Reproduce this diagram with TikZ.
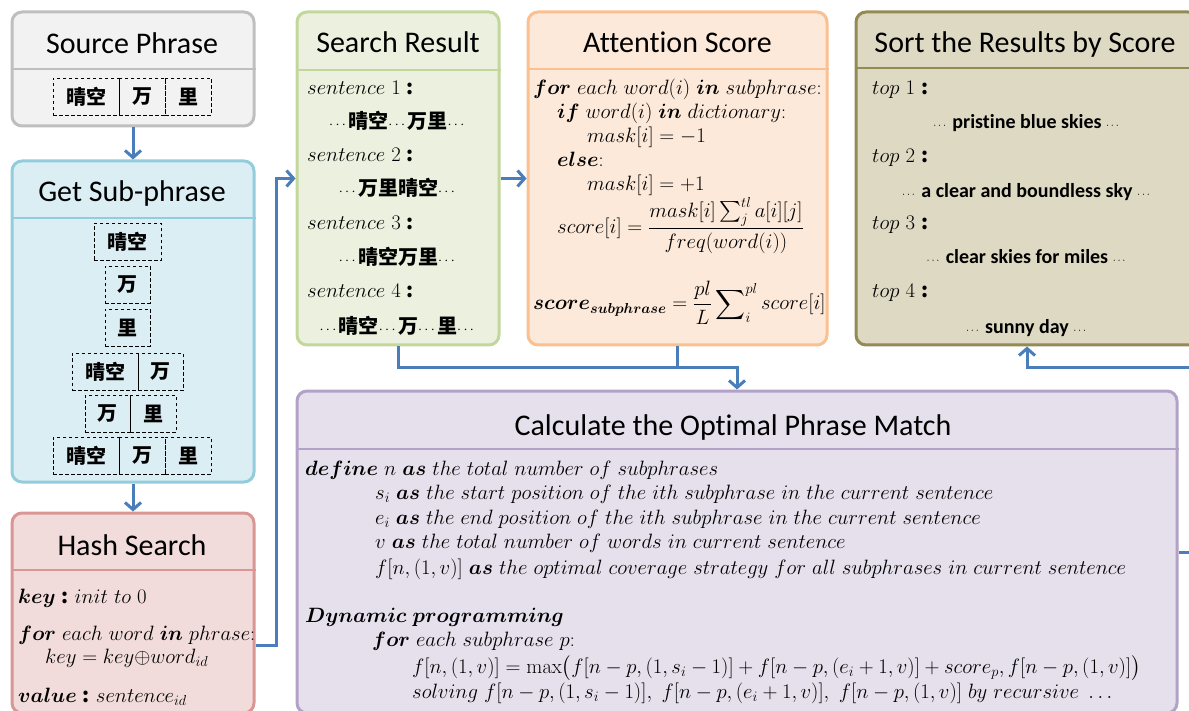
\documentclass[tikz,border=0pt]{standalone}
\usepackage[no-math]{fontspec}
\usepackage{amsmath}
\usepackage{bm}
\usetikzlibrary{arrows.meta,calc}
\newfontfamily\calib[Ligatures=NoCommon]{Carlito}
\newfontfamily\cjk{Noto Sans CJK SC}
\newcommand{\zh}[1]{{\cjk\bfseries #1}}
\newcommand{\dd}{{\fontsize{14}{14}\selectfont$\cdots$}}
\newcommand{\sd}{{\fontsize{11}{11}\selectfont$\cdots$}}
\newcommand{\cln}{\ \zh{:}}
\definecolor{arrowblue}{HTML}{4A7EBB}
\definecolor{srcfill}{HTML}{F2F2F2}\definecolor{srcdraw}{HTML}{BFBFBF}
\definecolor{subfill}{HTML}{DBEEF4}\definecolor{subdraw}{HTML}{93CDDD}
\definecolor{hashfill}{HTML}{F2DCDB}\definecolor{hashdraw}{HTML}{D99694}
\definecolor{resfill}{HTML}{EBF1DE}\definecolor{resdraw}{HTML}{C3D69B}
\definecolor{attfill}{HTML}{FDE9D9}\definecolor{attdraw}{HTML}{FAC090}
\definecolor{sortfill}{HTML}{DDD9C3}\definecolor{sortdraw}{HTML}{948A54}
\definecolor{calcfill}{HTML}{E5E0EC}\definecolor{calcdraw}{HTML}{B3A2C7}
\tikzset{
  panel/.style={rectangle, rounded corners=10pt, line width=3pt, inner sep=0pt},
  divider/.style={line width=2pt},
  title/.style={anchor=base, inner sep=0pt, font=\calib\fontsize{30}{36}\selectfont},
  cell/.style={draw, dash pattern=on 3.5pt off 2.5pt, line width=0.9pt, inner sep=0pt, minimum height=37pt,
    font=\cjk\bfseries\fontsize{20}{24}\selectfont},
  mtext/.style={anchor=base west, inner sep=0pt, font=\fontsize{20}{23}\selectfont},
  ztext/.style={anchor=center, inner sep=0pt, font=\fontsize{20}{24}\selectfont},
  stext/.style={anchor=base, inner sep=0pt, font=\calib\bfseries\fontsize{20}{24}\selectfont},
  conn/.style={draw=arrowblue, line width=3pt, -{Straight Barb[length=7pt,width=16pt]}},
  link/.style={draw=arrowblue, line width=3pt},
}
\begin{document}
\begin{tikzpicture}[x=1pt,y=-1pt]
\useasboundingbox (0,0) rectangle (1189,711);
\clip (0,0) rectangle (1189,711);

% panels
\node[panel, fill=srcfill, draw=srcdraw, minimum width=242pt, minimum height=114pt] (src) at (133,69) {};
\node[panel, fill=subfill, draw=subdraw, minimum width=242pt, minimum height=321pt] (sub) at (133,321.5) {};
\node[panel, fill=hashfill, draw=hashdraw, minimum width=242pt, minimum height=200pt] (hash) at (133,613) {};
\node[panel, fill=resfill, draw=resdraw, minimum width=202pt, minimum height=333pt] (search) at (398,178.5) {};
\node[panel, fill=attfill, draw=attdraw, minimum width=299pt, minimum height=333pt] (attn) at (677.5,178.5) {};
\node[panel, fill=sortfill, draw=sortdraw, minimum width=342pt, minimum height=333pt] (sort) at (1027,178.5) {};
\node[panel, fill=calcfill, draw=calcdraw, minimum width=880pt, minimum height=322pt] (calc) at (737,552) {};

% header dividers
\draw[divider, srcdraw] (src.west |- 0,69) -- (src.east |- 0,69);
\draw[divider, subdraw] (sub.west |- 0,218) -- (sub.east |- 0,218);
\draw[divider, hashdraw] (hash.west |- 0,570) -- (hash.east |- 0,570);
\draw[divider, resdraw] (search.west |- 0,70) -- (search.east |- 0,70);
\draw[divider, attdraw] (attn.west |- 0,69) -- (attn.east |- 0,69);
\draw[divider, sortdraw] (sort.west |- 0,68) -- (sort.east |- 0,68);
\draw[divider, calcdraw] (calc.west |- 0,449) -- (calc.east |- 0,449);

% titles
\node[title] (srcT) at (132,54) {Source Phrase};
\node[title] (subT) at (132,202) {Get Sub-phrase};
\node[title] (hashT) at (132,555) {Hash Search};
\node[title] (searchT) at (398,53) {Search Result};
\node[title] (attnT) at (677.5,53) {Attention Score};
\node[title] (sortT) at (1025,53) {Sort the Results by Score};
\node[title] (calcT) at (733,435) {Calculate the Optimal Phrase Match};

% source phrase segmentation
\node[cell, minimum width=66pt] (pa) at (86,96.5) {晴空};
\node[cell, minimum width=46pt] (pb) at (142,96.5) {万};
\node[cell, minimum width=46pt] (pc) at (188,96.5) {里};
\draw[line width=0.9pt] (pa.north east) -- (pa.south east);

% sub-phrases
\node[cell, minimum width=67pt] (q1) at (127.5,242) {晴空};
\node[cell, minimum width=45pt] (q2) at (127.5,284.5) {万};
\node[cell, minimum width=45pt] (q3) at (127.5,327.5) {里};
\node[cell, minimum width=66pt] (q4a) at (105,372) {晴空};
\node[cell, minimum width=45pt] (q4b) at (160.5,372) {万};
\draw[line width=0.9pt] (q4a.north east) -- (q4a.south east);
\node[cell, minimum width=45pt] (q5a) at (107.5,413.5) {万};
\node[cell, minimum width=46pt] (q5b) at (153,413.5) {里};
\node[cell, minimum width=66pt] (q6a) at (86,455.5) {晴空};
\node[cell, minimum width=46pt] (q6b) at (142,455.5) {万};
\node[cell, minimum width=46pt] (q6c) at (188,455.5) {里};
\draw[line width=0.9pt] (q6a.north east) -- (q6a.south east);

% hash search
\node[mtext] (h1) at (18,603) {$\bm{key}$\cln\ $init\ to\ 0$};
\node[mtext] (h2) at (18,640) {$\bm{for}\ each\ word\ \bm{in}\ phrase$:};
\node[mtext] (h3) at (45,663) {$key=key{\oplus}word_{id}$};
\node[mtext] (h4) at (18,702) {$\bm{value}$\cln\ $sentence_{id}$};

% search result
\node[mtext] (r1) at (307,95) {$sentence\ 1$\cln};
\node[ztext] (r1z) at (398,121) {\dd\zh{晴空}\dd\zh{万里}\dd};
\node[mtext] (r2) at (307,162) {$sentence\ 2$\cln};
\node[ztext] (r2z) at (398,188) {\dd\zh{万里晴空}\dd};
\node[mtext] (r3) at (307,230) {$sentence\ 3$\cln};
\node[ztext] (r3z) at (398,257) {\dd\zh{晴空万里}\dd};
\node[mtext] (r4) at (307,298) {$sentence\ 4$\cln};
\node[ztext] (r4z) at (398,326) {\dd\zh{晴空}\dd\zh{万}\dd\zh{里}\dd};

% attention score
\node[mtext] (a1) at (533,95) {$\bm{for}\ each\ word(i)\ \bm{in}\ subphrase$:};
\node[mtext] (a2) at (557,119) {$\bm{if}\ word(i)\ \bm{in}\ dictionary$:};
\node[mtext] (a3) at (587,143) {$mask[i]=-1$};
\node[mtext] (a4) at (557,167) {$\bm{else}$:};
\node[mtext] (a5) at (587,191) {$mask[i]=+1$};
\node[mtext] (a6) at (557,234) {$score[i]=\dfrac{mask[i]\textstyle\sum_j^{tl}a[i][j]}{freq(word(i))}$};
\node[mtext] (a7) at (533,310) {$\bm{score}_{\bm{subphrase}}=\dfrac{pl}{L}\displaystyle\sum\nolimits_i^{pl} score[i]$};

% sorted results
\node[mtext] (t1) at (872,95) {$top\ 1$\cln};
\node[stext] (t1s) at (1027,129) {\sd\ pristine blue skies \sd};
\node[mtext] (t2) at (872,163) {$top\ 2$\cln};
\node[stext] (t2s) at (1027,198) {\sd\ a clear and boundless sky \sd};
\node[mtext] (t3) at (872,230) {$top\ 3$\cln};
\node[stext] (t3s) at (1027,264) {\sd\ clear skies for miles \sd};
\node[mtext] (t4) at (872,298) {$top\ 4$\cln};
\node[stext] (t4s) at (1027,334) {\sd\ sunny day \sd};

% optimal phrase match
\node[mtext] (c1) at (305,475) {$\bm{define}\ n\ \bm{as}\ the\ total\ number\ of\ subphrases$};
\node[mtext] (c2) at (375,499) {$s_i\ \bm{as}\ the\ start\ position\ of\ the\ ith\ subphrase\ in\ the\ current\ sentence$};
\node[mtext] (c3) at (375,524) {$e_i\ \bm{as}\ the\ end\ position\ of\ the\ ith\ subphrase\ in\ the\ current\ sentence$};
\node[mtext] (c4) at (375,548) {$v\ \bm{as}\ the\ total\ number\ of\ words\ in\ current\ sentence$};
\node[mtext] (c5) at (375,574) {$f[n,(1,v)]\ \bm{as}\ the\ optimal\ coverage\ strategy\ for\ all\ subphrases\ in\ current\ sentence$};
\node[mtext] (c6) at (305,622) {$\bm{Dynamic\ programming}$};
\node[mtext] (c7) at (372,646) {$\bm{for}\ each\ subphrase\ p$:};
\node[mtext] (c8) at (412,673) {$f[n,(1,v)]=\max\bigl(f[n-p,(1,s_i-1)]+f[n-p,(e_i+1,v)]+score_p,f[n-p,(1,v)]\bigr)$};
\node[mtext] (c9) at (412,698) {$solving\ f[n-p,(1,s_i-1)],\ f[n-p,(e_i+1,v)],\ f[n-p,(1,v)]\ by\ recursive\ \ldots$};

% connectors
\coordinate (join) at (737,367);
\coordinate (loop) at (1205,367);
\draw[conn] (src.south) -- (sub.north);
\draw[conn] (sub.south) -- (hash.north);
\draw[conn] ([yshift=-32pt]hash.east) -- ++(21,0) |- (search.west);
\draw[conn] (search.east) -- (attn.west);
\draw[link] (attn.south) -- (attn.south |- join);
\draw[conn] (search.south) |- (join) -- (calc.north);
\draw[conn] (calc.east) -| (loop) -| (sort.south);
\end{tikzpicture}
\end{document}
